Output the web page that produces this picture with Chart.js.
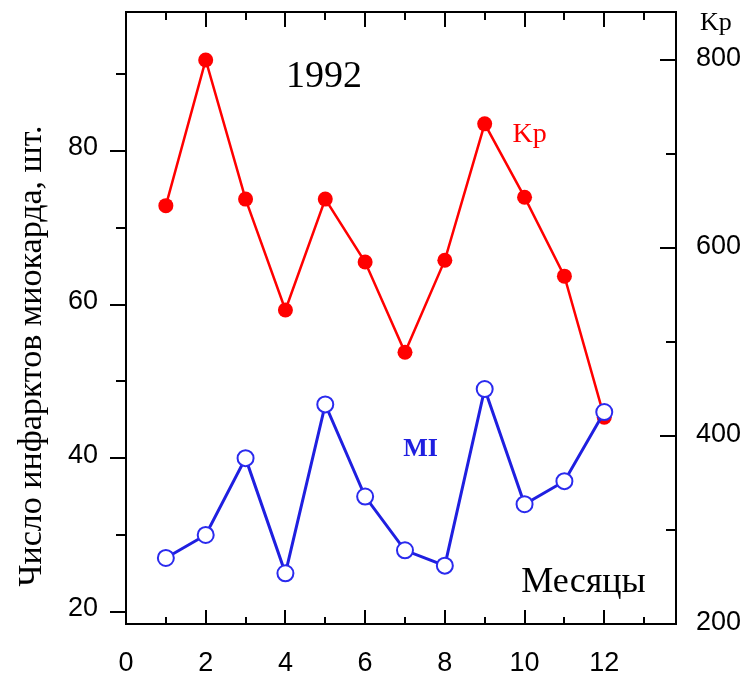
<!DOCTYPE html>
<html>
<head>
<meta charset="utf-8">
<script src="https://cdn.jsdelivr.net/npm/chart.js@4"></script>
<style>
  body { margin: 0; background: #fff; }
  #wrap { width: 751px; height: 677px; }
</style>
</head>
<body>
<div id="wrap"><canvas id="chart" width="751" height="677"></canvas></div>
<script>
// месяцы 1992 года
const months = [1, 2, 3, 4, 5, 6, 7, 8, 9, 10, 11, 12];
// число инфарктов миокарда (левая ось)
const miValues = [27, 30, 40, 25, 47, 35, 28, 26, 49, 34, 37, 46];
// Kp (правая ось)
const kpValues = [645, 800, 652, 534, 652, 585, 489, 587, 732, 654, 570, 420];

const xLabels = [0, 2, 4, 6, 8, 10, 12];
const leftMajor = [20, 40, 60, 80];
const leftMinor = [30, 50, 70, 90];
const rightMajor = [200, 400, 600, 800];
const rightMinor = [300, 500, 700];
const xMajor = [2, 4, 6, 8, 10, 12];
const xMinor = [1, 3, 5, 7, 9, 11, 13];

const serif = "'Liberation Serif', 'DejaVu Serif', serif";
const sans = "'Liberation Sans', Arial, sans-serif";

const frame = {
  id: 'frame',
  afterDatasetsDraw(chart) {
    const { ctx, chartArea: a, scales } = chart;
    const x = scales.x, yl = scales.y, yr = scales.y1;
    ctx.save();
    ctx.strokeStyle = '#000';
    ctx.lineWidth = 2;
    ctx.strokeRect(a.left, a.top, a.right - a.left, a.bottom - a.top);
    ctx.beginPath();
    const hx = (v, len) => {
      const px = Math.round(x.getPixelForValue(v));
      ctx.moveTo(px, a.bottom); ctx.lineTo(px, a.bottom - len);
      ctx.moveTo(px, a.top); ctx.lineTo(px, a.top + len + 1);
    };
    xMajor.forEach(v => hx(v, 14));
    xMinor.forEach(v => hx(v, 7));
    leftMajor.forEach(v => { const py = Math.round(yl.getPixelForValue(v)); ctx.moveTo(a.left - 16, py); ctx.lineTo(a.left, py); });
    leftMinor.forEach(v => { const py = Math.round(yl.getPixelForValue(v)); ctx.moveTo(a.left - 10, py); ctx.lineTo(a.left, py); });
    rightMajor.forEach(v => { const py = Math.round(yr.getPixelForValue(v)); ctx.moveTo(a.right - 16, py); ctx.lineTo(a.right, py); });
    rightMinor.forEach(v => { const py = Math.round(yr.getPixelForValue(v)); ctx.moveTo(a.right - 10, py); ctx.lineTo(a.right, py); });
    ctx.stroke();
    ctx.restore();
  },
  afterDraw(chart) {
    const { ctx, chartArea: a, scales } = chart;
    const x = scales.x, yl = scales.y;
    ctx.save();
    ctx.textBaseline = 'alphabetic';

    ctx.fillStyle = '#000';
    ctx.font = '38px ' + serif;
    ctx.textAlign = 'center';
    ctx.fillText('1992', x.getPixelForValue(4.97), yl.getPixelForValue(88.3));

    ctx.font = '36px ' + serif;
    ctx.fillText('Месяцы', x.getPixelForValue(11.48), yl.getPixelForValue(22.6));

    ctx.fillStyle = '#ff0000';
    ctx.font = '28px ' + serif;
    ctx.textAlign = 'left';
    ctx.fillText('Kp', x.getPixelForValue(9.7), yl.getPixelForValue(81.2));

    ctx.fillStyle = '#1f1fe0';
    ctx.font = 'bold 26px ' + serif;
    ctx.textAlign = 'center';
    ctx.fillText('MI', x.getPixelForValue(7.39), yl.getPixelForValue(40.3));

    // заголовок правой оси
    ctx.fillStyle = '#000';
    ctx.font = '26px ' + serif;
    ctx.textAlign = 'left';
    ctx.fillText('Kp', a.right + 24, a.top + 18);

    // заголовок левой оси
    ctx.translate(41, 356);
    ctx.rotate(-Math.PI / 2);
    ctx.font = '34px ' + serif;
    ctx.textAlign = 'center';
    ctx.fillText('Число инфарктов миокарда, шт.', 0, 0);
    ctx.restore();
  }
};

new Chart(document.getElementById('chart'), {
  type: 'line',
  data: {
    datasets: [
      {
        label: 'MI',
        data: months.map((m, i) => ({ x: m, y: miValues[i] })),
        yAxisID: 'y',
        order: 0,
        borderColor: '#1f1fe0',
        borderWidth: 3,
        pointRadius: 8,
        pointBorderWidth: 2,
        pointBackgroundColor: '#fff',
        pointBorderColor: '#2a2aee',
        tension: 0
      },
      {
        label: 'Kp',
        data: months.map((m, i) => ({ x: m, y: kpValues[i] })),
        yAxisID: 'y1',
        order: 1,
        borderColor: '#ff0000',
        borderWidth: 2.5,
        pointRadius: 7.5,
        pointBorderWidth: 0,
        pointBackgroundColor: '#ff0000',
        pointBorderColor: '#ff0000',
        tension: 0
      }
    ]
  },
  options: {
    responsive: false,
    animation: false,
    layout: { padding: { top: 12, left: 0, right: 0, bottom: 0 } },
    plugins: { legend: { display: false }, tooltip: { enabled: false } },
    scales: {
      x: {
        type: 'linear',
        min: 0, max: 13.8,
        grid: { display: false, drawTicks: false },
        border: { display: false },
        afterBuildTicks: s => { s.ticks = xLabels.map(v => ({ value: v })); },
        ticks: { color: '#000', font: { family: sans, size: 27 }, padding: 23, maxRotation: 0, autoSkip: false },
        afterFit: s => { s.height = 53; s.paddingLeft = 0; s.paddingRight = 0; }
      },
      y: {
        position: 'left',
        min: 18.4, max: 98.1,
        grid: { display: false, drawTicks: false },
        border: { display: false },
        afterBuildTicks: s => { s.ticks = leftMajor.map(v => ({ value: v })); },
        ticks: { color: '#000', font: { family: sans, size: 27 }, padding: 28, labelOffset: -3 },
        afterFit: s => { s.width = 126; s.paddingTop = 0; s.paddingBottom = 0; }
      },
      y1: {
        position: 'right',
        min: 200, max: 851,
        grid: { display: false, drawTicks: false },
        border: { display: false },
        afterBuildTicks: s => { s.ticks = rightMajor.map(v => ({ value: v })); },
        ticks: { color: '#000', font: { family: sans, size: 27 }, padding: 20, labelOffset: -1 },
        afterFit: s => { s.width = 75; s.paddingTop = 0; s.paddingBottom = 0; }
      }
    }
  },
  plugins: [frame]
});
</script>
</body>
</html>
